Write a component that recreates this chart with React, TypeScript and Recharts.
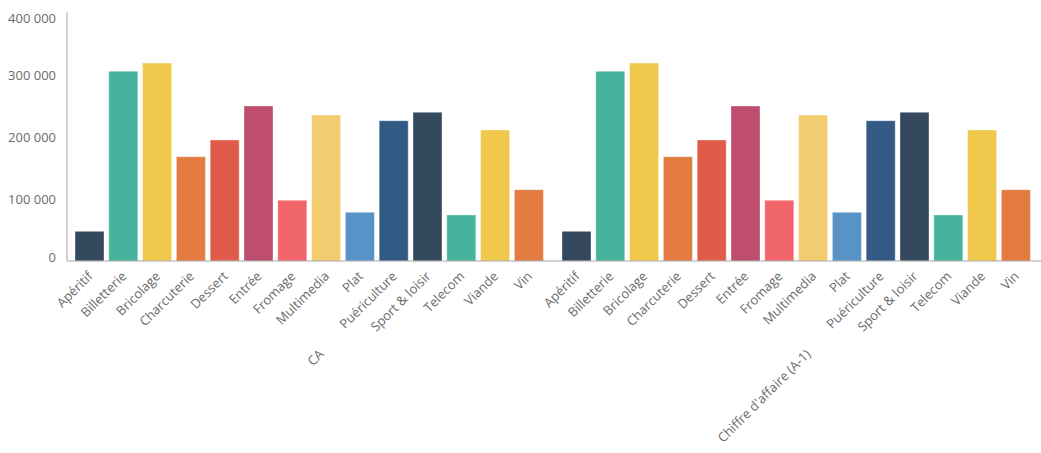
import React from 'react';
import { BarChart, Bar, XAxis, YAxis, LabelList } from 'recharts';

const categories = ['Apéritif', 'Billetterie', 'Bricolage', 'Charcuterie', 'Dessert', 'Entrée', 'Fromage', 'Multimedia', 'Plat', 'Puériculture', 'Sport & loisir', 'Telecom', 'Viande', 'Vin'];
const groups = ['CA', "Chiffre d'affaire (A-1)"];
const caValues = [47700, 304700, 318000, 167600, 194400, 249000, 97500, 234500, 78200, 225400, 238900, 73900, 210400, 114500];
const caPrevValues = [47700, 304700, 318000, 167600, 194400, 249000, 97500, 234500, 78200, 225400, 238900, 73900, 210400, 114500];
const palette = ['#34495e', '#46b39d', '#f0c84b', '#e37b40', '#e15b4a', '#be4d6e', '#f0656a', '#f4cc70', '#5893c7', '#335a85'];
const yTicks = [0, 100000, 200000, 300000, 400000];

const seriesByGroup = [caValues, caPrevValues];
const data = groups.map((g, gi) => {
  const row: Record<string, string | number> = { group: g };
  categories.forEach((c, ci) => {
    row[c] = seriesByGroup[gi][ci];
  });
  return row;
});

const FONT = '"Open Sans", sans-serif';
const TEXT = '#6b6b6b';
const fmt = (n: number) => String(n).replace(/\B(?=(\d{3})+(?!\d))/g, ' ');

const YTick = (props: any) => {
  const { x, y, payload } = props;
  let shift = 1;
  if (payload.value === 400000) shift = 6;
  if (payload.value === 0) shift = -4;
  return (
    <text x={x} y={y + shift} dy="0.355em" textAnchor="end" fontFamily={FONT} fontSize={13} fill={TEXT}>
      {fmt(payload.value)}
    </text>
  );
};

const GroupTick = (props: any) => {
  const { x, y, payload } = props;
  const ax = x + 14;
  const ay = y + 94;
  return (
    <text x={ax} y={ay} transform={`rotate(-45, ${ax}, ${ay})`} textAnchor="end" fontFamily={FONT} fontSize={13} fill={TEXT}>
      {payload.value}
    </text>
  );
};

const makeLabel = (name: string) => (props: any) => {
  const { x, y, width, height } = props;
  const ax = x + width / 2 + 4;
  const ay = y + height + 16;
  return (
    <text x={ax} y={ay} transform={`rotate(-45, ${ax}, ${ay})`} textAnchor="end" fontFamily={FONT} fontSize={13} fill={TEXT}>
      {name}
    </text>
  );
};

export default function App() {
  return (
    <div style={{ position: 'absolute', left: 0, top: 0, width: 1041, height: 453, background: '#fff' }}>
      <BarChart
        width={1041}
        height={453}
        data={data}
        margin={{ top: 12, right: 0, left: 0, bottom: 0 }}
        barCategoryGap={8}
        barGap={4.8}
      >
        <XAxis
          dataKey="group"
          height={192}
          tickLine={false}
          tickSize={0}
          tickMargin={0}
          axisLine={{ stroke: '#a6a6a6', strokeWidth: 1 }}
          tick={<GroupTick />}
          interval={0}
        />
        <YAxis
          width={67}
          domain={[0, 400000]}
          ticks={yTicks}
          tickLine={false}
          tickSize={0}
          tickMargin={11}
          axisLine={{ stroke: '#a6a6a6', strokeWidth: 1 }}
          tick={<YTick />}
          interval={0}
        />
        {categories.map((c, i) => (
          <Bar
            key={c}
            dataKey={c}
            fill={palette[i % palette.length]}
            stroke="rgba(255,255,255,0.35)"
            strokeWidth={1}
            isAnimationActive={false}
          >
            <LabelList dataKey={c} content={makeLabel(c)} />
          </Bar>
        ))}
      </BarChart>
    </div>
  );
}
